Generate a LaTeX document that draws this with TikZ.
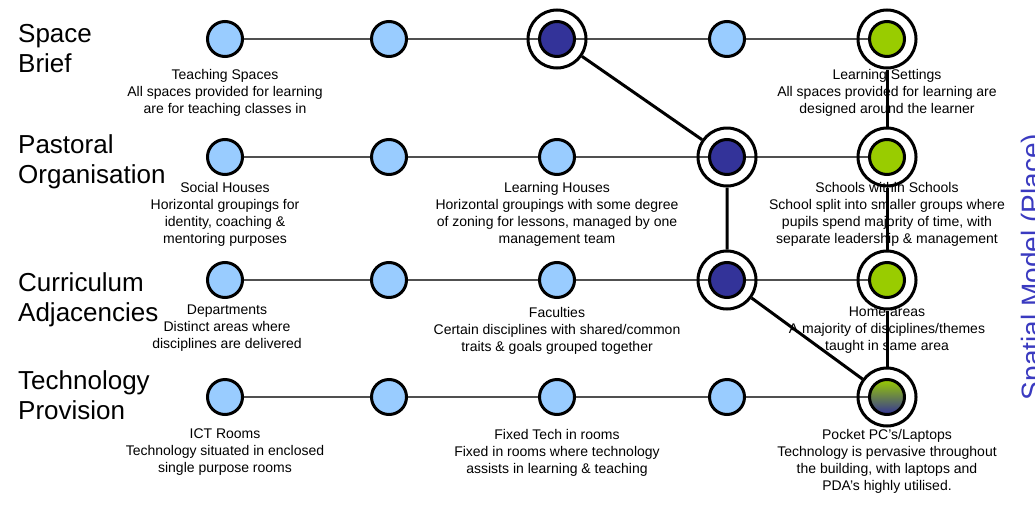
\documentclass[tikz,border=0pt]{standalone}
\usepackage{fontspec}
\setmainfont{Liberation Sans}
\definecolor{paleblue}{HTML}{99CCFF}
\definecolor{deepblue}{HTML}{333399}
\definecolor{leafgreen}{HTML}{99CC00}
\definecolor{railgrey}{HTML}{505050}
\definecolor{placeblue}{HTML}{3A3AC0}
\pgfdeclarelayer{under}
\pgfsetlayers{under,main}

\begin{document}
\begin{tikzpicture}[x=1pt,y=-1pt,
  stop/.style={circle, draw=black, line width=3pt, minimum size=35pt, inner sep=0pt},
  plain/.style={stop, fill=paleblue},
  hub/.style={stop, fill=deepblue},
  goal/.style={stop, fill=leafgreen},
  blend/.style={stop, top color=leafgreen, bottom color=deepblue},
  ring/.style={circle, draw=black, line width=3pt, minimum size=58pt, inner sep=0pt},
  rail/.style={draw=railgrey, line width=1.5pt},
  route/.style={draw=black, line width=3pt},
  rowlabel/.style={anchor=north west, align=left, inner sep=0pt,
    font=\fontsize{26}{30}\selectfont},
  note/.style={anchor=north, align=center, inner sep=0pt,
    font=\fontsize{14}{17}\selectfont},
]
\clip (0,0) rectangle (1035,506);
\begin{pgfonlayer}{under}
  \fill[white] (0,0) rectangle (1035,506);
\end{pgfonlayer}

% row headings
\node[rowlabel] (hSpace) at (18,24) {Space\\Brief};
\node[rowlabel] (hPast) at (18,134) {Pastoral\\Organisation};
\node[rowlabel] (hCurr) at (18,272) {Curriculum\\Adjacencies};
\node[rowlabel] (hTech) at (18,370) {Technology\\Provision};

% descriptions
\node[note] (t11) at (225,69) {Teaching Spaces\\All spaces provided for learning\\are for teaching classes in};
\node[note] (t15) at (887,69) {Learning Settings\\All spaces provided for learning are\\designed around the learner};
\node[note] (t21) at (225,182) {Social Houses\\Horizontal groupings for\\identity, coaching \&\\mentoring purposes};
\node[note] (t23) at (557,182) {Learning Houses\\Horizontal groupings with some degree\\of zoning for lessons, managed by one\\management team};
\node[note] (t25) at (887,182) {Schools within Schools\\School split into smaller groups where\\pupils spend majority of time, with\\separate leadership \& management};
\node[note] (t31) at (227,305) {Departments\\Distinct areas where\\disciplines are delivered};
\node[note] (t33) at (557,307) {Faculties\\Certain disciplines with shared/common\\traits \& goals grouped together};
\node[note] (t35) at (887,307) {Home areas\\A majority of disciplines/themes\\taught in same area};
\node[note] (t41) at (225,429) {ICT Rooms\\Technology situated in enclosed\\single purpose rooms};
\node[note] (t43) at (557,429) {Fixed Tech in rooms\\Fixed in rooms where technology\\assists in learning \& teaching};
\node[note] (t45) at (887,429) {Pocket PC's/Laptops\\Technology is pervasive throughout\\the building, with laptops and\\PDA's highly utilised.};

% side caption, running off the right edge
\node[rotate=90, anchor=north, inner sep=0pt, text=placeblue,
  font=\fontsize{28}{30}\selectfont] (place) at (1021,267) {Spatial Model (Place)};

% stops, row 1
\node[plain] (r1c1) at (225,39) {};
\node[plain] (r1c2) at (389,39) {};
\node[ring]  (o13)  at (557,39) {};
\node[hub]   (r1c3) at (557,39) {};
\node[plain] (r1c4) at (727,39) {};
\node[ring]  (o15)  at (887,39) {};
\node[goal]  (r1c5) at (887,39) {};
% row 2
\node[plain] (r2c1) at (225,157) {};
\node[plain] (r2c2) at (389,157) {};
\node[plain] (r2c3) at (557,157) {};
\node[ring]  (o24)  at (727,157) {};
\node[hub]   (r2c4) at (727,157) {};
\node[ring]  (o25)  at (887,157) {};
\node[goal]  (r2c5) at (887,157) {};
% row 3
\node[plain] (r3c1) at (225,280) {};
\node[plain] (r3c2) at (389,280) {};
\node[plain] (r3c3) at (557,280) {};
\node[ring]  (o34)  at (727,280) {};
\node[hub]   (r3c4) at (727,280) {};
\node[ring]  (o35)  at (887,280) {};
\node[goal]  (r3c5) at (887,280) {};
% row 4
\node[plain] (r4c1) at (225,397) {};
\node[plain] (r4c2) at (389,397) {};
\node[plain] (r4c3) at (557,397) {};
\node[plain] (r4c4) at (727,397) {};
\node[ring]  (o45)  at (887,397) {};
\node[blend] (r4c5) at (887,397) {};

% thin rails along each row
\begin{pgfonlayer}{under}
  \draw[rail] (r1c1) -- (r1c2) -- (r1c3) -- (r1c4) -- (r1c5);
  \draw[rail] (r2c1) -- (r2c2) -- (r2c3) -- (r2c4) -- (r2c5);
  \draw[rail] (r3c1) -- (r3c2) -- (r3c3) -- (r3c4) -- (r3c5);
  \draw[rail] (r4c1) -- (r4c2) -- (r4c3) -- (r4c4) -- (r4c5);
\end{pgfonlayer}

% heavy routes between ringed stops
\draw[route] (o13) -- (o24) -- (o34) -- (o45);
\draw[route] (o15) -- (o25) -- (o35) -- (o45);
\end{tikzpicture}
\end{document}
